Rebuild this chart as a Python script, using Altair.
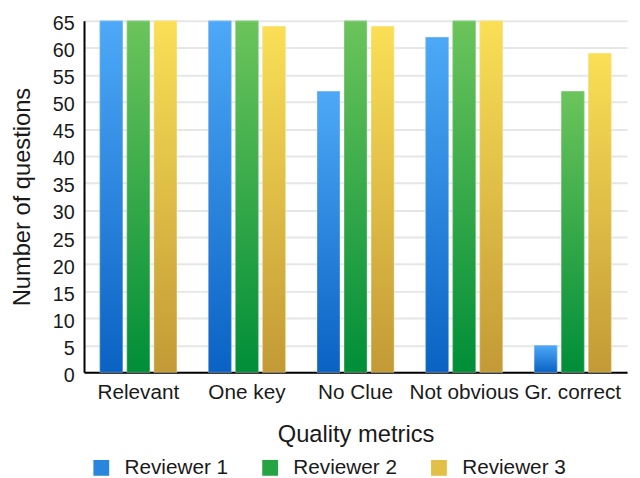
import altair as alt
import pandas as pd

categories = ["Relevant", "One key", "No Clue", "Not obvious", "Gr. correct"]
reviewers = ["Reviewer 1", "Reviewer 2", "Reviewer 3"]
reviewer1 = [65, 65, 52, 62, 5]
reviewer2 = [65, 65, 65, 65, 52]
reviewer3 = [65, 64, 64, 65, 59]
y_ticks = list(range(0, 66, 5))

legend_colors = ["#2a86dd", "#26a443", "#e2bf46"]
grad_top = ["#4da9f7", "#6cc45b", "#fadf56"]
grad_bottom = ["#0a62c3", "#008e38", "#c39a36"]

rows = []
for r, vals in zip(reviewers, [reviewer1, reviewer2, reviewer3]):
    for c, v in zip(categories, vals):
        rows.append({"metric": c, "reviewer": r, "count": v})
df = pd.DataFrame(rows)

FONT = "Liberation Sans"

x_enc = alt.X(
    "metric:N",
    sort=categories,
    scale=alt.Scale(paddingInner=0.29, paddingOuter=0.145),
    axis=alt.Axis(
        title="Quality metrics",
        labelAngle=0,
        labelFontSize=21,
        labelPadding=10,
        titlePadding=20,
        ticks=False,
        grid=False,
        domainColor="black",
        domainWidth=2,
    ),
)
y_enc = alt.Y(
    "count:Q",
    scale=alt.Scale(domain=[0, 65], nice=False),
    axis=alt.Axis(
        title="Number of questions",
        values=y_ticks,
        ticks=False,
        labelPadding=10,
        labelOffset=3,
        titlePadding=18,
        gridColor="#e6e6e6",
        gridWidth=2,
        domainColor="black",
        domainWidth=2,
    ),
)
xoff = alt.XOffset("reviewer:N", sort=reviewers, scale=alt.Scale(paddingInner=0.15, paddingOuter=0))

base = alt.Chart(df)

legend_layer = base.mark_bar().encode(
    x=x_enc,
    y=y_enc,
    xOffset=xoff,
    color=alt.Color(
        "reviewer:N",
        sort=reviewers,
        scale=alt.Scale(domain=reviewers, range=legend_colors),
        legend=alt.Legend(
            title=None,
            orient="none",
            direction="horizontal",
            legendX=7,
            legendY=442,
            symbolType="square",
            symbolSize=256,
            symbolStrokeWidth=0,
            labelFontSize=21,
            labelFont=FONT,
            labelColor="#1a1a1a",
            labelOffset=13,
            columnPadding=31,
        ),
    ),
)

layers = [legend_layer]
for i, r in enumerate(reviewers):
    grad = alt.Gradient(
        gradient="linear",
        stops=[
            alt.GradientStop(color=grad_top[i], offset=0),
            alt.GradientStop(color=grad_bottom[i], offset=1),
        ],
        x1=0, x2=0, y1=0, y2=1,
    )
    layers.append(
        base.transform_filter(alt.datum.reviewer == r)
        .mark_bar(fill=grad, stroke="white", strokeOpacity=0.35, strokeWidth=1)
        .encode(x=x_enc, y=y_enc, xOffset=xoff)
    )

chart = (
    alt.layer(*layers)
    .properties(
        width=550,
        height=356,
        autosize=alt.AutoSizeParams(type="none"),
        padding={"left": 77, "top": 10, "right": 5, "bottom": 104},
        background="white",
    )
    .configure_view(stroke=None)
    .configure_axis(
        labelFont=FONT,
        labelFontSize=20,
        labelColor="#1a1a1a",
        titleFont=FONT,
        titleFontSize=24,
        titleFontWeight="normal",
        titleColor="#1a1a1a",
    )
)

chart.save("out.html", embed_options={"renderer": "svg", "actions": False})
